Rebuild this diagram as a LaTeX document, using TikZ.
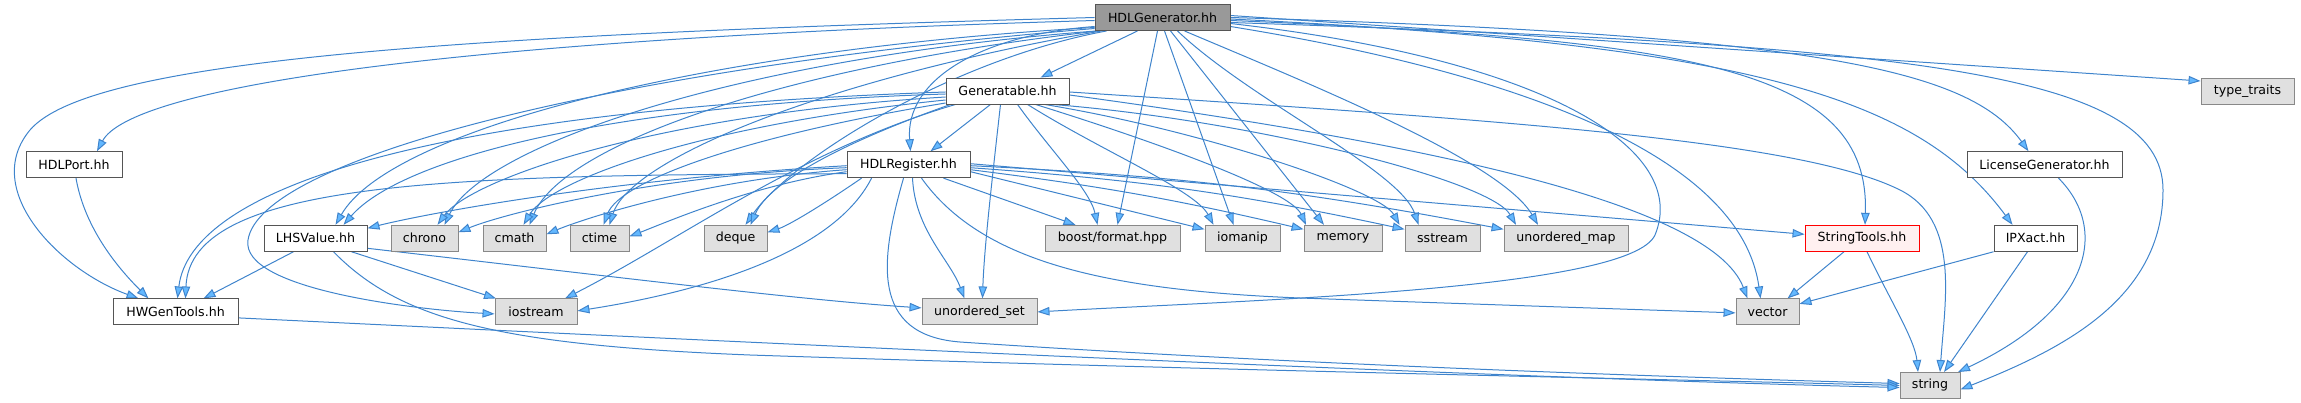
\documentclass[tikz,border=0pt]{standalone}
\usepackage{fontspec}
\setmainfont{DejaVu Sans}
\usetikzlibrary{arrows.meta}
\pgfdeclarelayer{bg}
\pgfsetlayers{bg,main}
\definecolor{ecol}{HTML}{3F84CC}
\definecolor{afill}{HTML}{63B8FF}
\definecolor{bcol}{HTML}{555555}
\definecolor{gfill}{HTML}{E0E0E0}
\definecolor{gbord}{HTML}{888888}
\definecolor{rootfill}{HTML}{999999}
\definecolor{rfill}{HTML}{FFF0F0}
\tikzset{
  box/.style={draw=bcol, line width=0.9pt, minimum height=26pt, inner sep=0pt,
    font=\fontsize{12.6pt}{15pt}\selectfont, text=black},
  wnode/.style={box, fill=white},
  gnode/.style={box, fill=gfill, draw=gbord},
  rootnode/.style={box, fill=rootfill},
  rnode/.style={box, fill=rfill, draw=red},
  dep/.style={draw=ecol, line width=1pt, -{Triangle[length=12pt,width=8.5pt,fill=afill]}},
}
\begin{document}
\begin{tikzpicture}[x=1pt,y=-1pt]
\useasboundingbox (0,0) rectangle (2301,403);
% nodes
\node[rootnode, minimum width=135] (gen) at (1162.5,17.5) {HDLGenerator.hh};
\node[wnode, minimum width=123] (genr) at (1007.5,91) {Generatable.hh};
\node[gnode, minimum width=93] (tt) at (2247.5,91) {type\_traits};
\node[wnode, minimum width=96] (port) at (74,164.7) {HDLPort.hh};
\node[wnode, minimum width=123] (reg) at (908.5,164.7) {HDLRegister.hh};
\node[wnode, minimum width=155] (lic) at (2044.5,164.7) {LicenseGenerator.hh};
\node[wnode, minimum width=103] (lhs) at (315.5,238.3) {LHSValue.hh};
\node[gnode, minimum width=67] (chrono) at (424.5,238.3) {chrono};
\node[gnode, minimum width=63] (cmath) at (514.5,238.3) {cmath};
\node[gnode, minimum width=59] (ctime) at (599.5,238.3) {ctime};
\node[gnode, minimum width=63] (deque) at (735.5,238.3) {deque};
\node[gnode, minimum width=135] (boost) at (1112.5,238.3) {boost/format.hpp};
\node[gnode, minimum width=75] (iomanip) at (1242.5,238.3) {iomanip};
\node[gnode, minimum width=78] (memory) at (1343,238.3) {memory};
\node[gnode, minimum width=75] (sstream) at (1442.5,238.3) {sstream};
\node[gnode, minimum width=124] (umap) at (1566,238.3) {unordered\_map};
\node[rnode, minimum width=114] (st) at (1862,238.3) {StringTools.hh};
\node[wnode, minimum width=83] (ipx) at (2035.5,238.3) {IPXact.hh};
\node[wnode, minimum width=125] (hwg) at (175.5,311.9) {HWGenTools.hh};
\node[gnode, minimum width=82] (ios) at (536,311.9) {iostream};
\node[gnode, minimum width=115] (uset) at (979.5,311.9) {unordered\_set};
\node[gnode, minimum width=63] (vec) at (1767.5,311.9) {vector};
\node[gnode, minimum width=60] (str) at (1930,385.5) {string};
\begin{pgfonlayer}{bg}
% HDLGenerator.hh
\draw[dep] ([xshift=-25pt]gen.south) -- ([xshift=33pt]genr.north);
\draw[dep] ([yshift=-9pt]gen.west) .. controls (980,35) and (905,80) .. ([xshift=2pt]reg.north);
\draw[dep] ([yshift=-3pt]gen.west) .. controls (420,40) and (130,90) .. ([xshift=23pt]port.north);
\draw[dep] (gen.west) .. controls (450,35) and (90,60) .. (30,130) .. controls (-20,190) and (60,270) .. ([xshift=-37pt]hwg.north);
\draw[dep] ([yshift=-10pt]gen.west) .. controls (700,50) and (390,130) .. ([xshift=20pt]lhs.north);
\draw[dep] ([xshift=2pt]gen.south west) .. controls (720,60) and (480,150) .. ([xshift=20pt]chrono.north);
\draw[dep] ([xshift=4pt]gen.south west) .. controls (760,70) and (560,150) .. ([xshift=15pt]cmath.north);
\draw[dep] ([xshift=7pt]gen.south west) .. controls (820,80) and (630,160) .. ([xshift=10pt]ctime.north);
\draw[dep] ([xshift=12pt]gen.south west) .. controls (950,60) and (790,160) .. ([xshift=10pt]deque.north);
\draw[dep] ([yshift=-11pt]gen.west) .. controls (600,70) and (260,160) .. (248,240) .. controls (240,290) and (420,310) .. ([yshift=-2pt]ios.west);
\draw[dep] ([xshift=-5pt]gen.south) -- ([xshift=5pt]boost.north);
\draw[dep] ([xshift=2pt]gen.south) -- ([xshift=-9pt]iomanip.north);
\draw[dep] ([xshift=8pt]gen.south) -- ([xshift=-19pt]memory.north);
\draw[dep] ([xshift=15pt]gen.south) .. controls (1250,100) and (1400,170) .. ([xshift=-24pt]sstream.north);
\draw[dep] ([xshift=22pt]gen.south) .. controls (1300,80) and (1500,160) .. ([xshift=-28pt]umap.north);
\draw[dep] ([yshift=-9pt]gen.east) .. controls (1500,70) and (1740,150) .. ([xshift=-7pt]vec.north);
\draw[dep] ([yshift=-6pt]gen.east) .. controls (1550,60) and (1690,150) .. (1655,235) .. controls (1630,290) and (1250,300) .. (uset.east);
\draw[dep] ([yshift=-3pt]gen.east) .. controls (1700,40) and (1870,70) .. ([xshift=3pt]st.north);
\draw[dep] ([yshift=-1.5pt]gen.east) .. controls (1760,45) and (1920,100) .. ([xshift=-23pt]ipx.north);
\draw[dep] (gen.east) .. controls (1820,35) and (1970,70) .. ([xshift=-16pt]lic.north);
\draw[dep] ([yshift=2pt]gen.east) -- ([yshift=10pt]tt.west);
\draw[dep] ([yshift=-5pt]gen.east) .. controls (1900,45) and (2163,70) .. (2163,190) .. controls (2163,300) and (2060,350) .. ([yshift=-4pt]str.east);
% Generatable.hh
\draw[dep] ([xshift=-17pt]genr.south) -- ([xshift=22pt]reg.north);
\draw[dep] ([yshift=-3pt]genr.west) .. controls (600,105) and (400,160) .. ([xshift=28pt]lhs.north);
\draw[dep] ([yshift=-1pt]genr.west) .. controls (420,110) and (190,190) .. ([xshift=2pt]hwg.north);
\draw[dep] ([yshift=-6pt]genr.west) .. controls (650,115) and (470,180) .. ([xshift=13pt]chrono.north);
\draw[dep] ([yshift=-9pt]genr.west) .. controls (700,125) and (550,180) .. ([xshift=9pt]cmath.north);
\draw[dep] ([yshift=-12pt]genr.west) .. controls (750,135) and (620,180) .. ([xshift=4pt]ctime.north);
\draw[dep] ([xshift=5pt]genr.south west) .. controls (850,140) and (770,180) .. ([xshift=15pt]deque.north);
\draw[dep] ([xshift=10pt]genr.south west) .. controls (800,150) and (680,240) .. ([xshift=29pt]ios.north);
\draw[dep] ([xshift=-7pt]genr.south) .. controls (992,180) and (984,250) .. ([xshift=3pt]uset.north);
\draw[dep] ([xshift=10pt]genr.south) .. controls (1050,150) and (1090,190) .. ([xshift=-15pt]boost.north);
\draw[dep] ([xshift=20pt]genr.south) .. controls (1100,150) and (1195,190) .. ([xshift=-29pt]iomanip.north);
\draw[dep] ([xshift=28pt]genr.south) .. controls (1150,140) and (1290,190) .. ([xshift=-37pt]memory.north);
\draw[dep] ([xshift=37pt]genr.south) .. controls (1200,130) and (1380,190) .. ([xshift=-43pt]sstream.north);
\draw[dep] ([xshift=45pt]genr.south) .. controls (1250,120) and (1490,180) .. ([xshift=-50pt]umap.north);
\draw[dep] ([yshift=-4pt]genr.east) .. controls (1400,140) and (1710,200) .. ([xshift=-20pt]vec.north);
\draw[dep] ([yshift=-1pt]genr.east) .. controls (1500,120) and (1800,140) .. (1900,190) .. controls (1960,220) and (1945,300) .. ([xshift=10pt]str.north);
% HDLRegister.hh
\draw[dep] ([yshift=-1pt]reg.west) .. controls (600,180) and (420,215) .. ([yshift=10pt]lhs.east);
\draw[dep] ([yshift=-3pt]reg.west) .. controls (650,175) and (500,215) .. ([yshift=6pt]chrono.east);
\draw[dep] ([yshift=-5pt]reg.west) .. controls (700,180) and (580,220) .. ([yshift=4pt]cmath.east);
\draw[dep] ([yshift=-7pt]reg.west) .. controls (750,185) and (660,225) .. ([yshift=2pt]ctime.east);
\draw[dep] ([xshift=15pt]reg.south west) .. controls (830,200) and (790,225) .. ([yshift=6pt]deque.east);
\draw[dep] ([yshift=-9pt]reg.west) .. controls (450,175) and (190,180) .. ([xshift=10pt]hwg.north);
\draw[dep] ([xshift=25pt]reg.south west) .. controls (830,260) and (680,295) .. ([yshift=1pt]ios.east);
\draw[dep] ([xshift=4pt]reg.south) .. controls (915,230) and (950,260) .. ([xshift=-15pt]uset.north);
\draw[dep] ([xshift=-5pt]reg.south) .. controls (880,260) and (870,335) .. (960,342) .. controls (1300,365) and (1700,378) .. ([yshift=2pt]str.west);
\draw[dep] ([xshift=13pt]reg.south) .. controls (980,260) and (1100,290) .. (1300,298) .. controls (1500,305) and (1650,310) .. ([yshift=-1pt]vec.west);
\draw[dep] ([xshift=35pt]reg.south) -- ([xshift=-37pt]boost.north);
\draw[dep] ([yshift=-7pt]reg.east) -- ([yshift=9pt]iomanip.west);
\draw[dep] ([yshift=-5pt]reg.east) to[bend left=3] ([yshift=9pt]memory.west);
\draw[dep] ([yshift=-3pt]reg.east) to[bend left=4] ([yshift=9pt]sstream.west);
\draw[dep] ([yshift=-1pt]reg.east) to[bend left=4] ([yshift=9pt]umap.west);
\draw[dep] ([yshift=1pt]reg.east) -- ([yshift=4pt]st.west);
% others
\draw[dep] ([xshift=2pt]port.south) .. controls (85,230) and (120,270) .. ([xshift=-27pt]hwg.north);
\draw[dep] ([xshift=-22pt]lhs.south) -- ([xshift=28pt]hwg.north);
\draw[dep] ([xshift=36pt]lhs.south) -- ([xshift=-40pt]ios.north);
\draw[dep] ([yshift=-10pt]lhs.east) .. controls (600,275) and (800,300) .. ([yshift=4pt]uset.west);
\draw[dep] ([xshift=18pt]lhs.south) .. controls (400,320) and (500,345) .. (750,355) .. controls (1200,370) and (1700,380) .. (str.west);
\draw[dep] ([yshift=-6pt]hwg.east) .. controls (800,345) and (1500,378) .. ([yshift=-2pt]str.west);
\draw[dep] ([xshift=-18pt]st.south) -- ([xshift=20pt]vec.north);
\draw[dep] ([xshift=5pt]st.south) .. controls (1890,300) and (1915,340) .. ([xshift=-12pt]str.north);
\draw[dep] (ipx.south west) -- ([yshift=8pt]vec.east);
\draw[dep] ([xshift=-8pt]ipx.south) -- ([xshift=14pt]str.north);
\draw[dep] ([xshift=14pt]lic.south) .. controls (2110,230) and (2090,310) .. ([xshift=28pt]str.north);
\end{pgfonlayer}
\end{tikzpicture}
\end{document}
